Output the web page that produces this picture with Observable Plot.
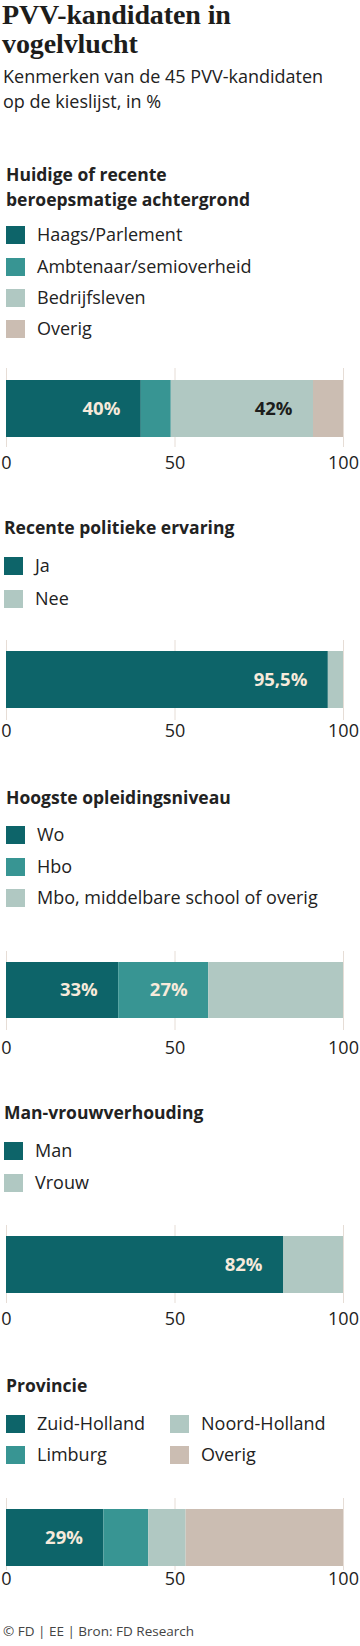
<!DOCTYPE html>
<html>
<head>
<meta charset="utf-8">
<script src="https://cdn.jsdelivr.net/npm/d3@7"></script>
<script src="https://cdn.jsdelivr.net/npm/@observablehq/plot@0.6"></script>
<style>
  html, body { margin: 0; padding: 0; background: #fff; }
  #root { position: relative; width: 360px; height: 1646px; overflow: hidden; font-family: "Open Sans", sans-serif; color: #222; }
  .t { position: absolute; white-space: nowrap; line-height: 1; }
  .sw { position: absolute; }
  .plot { position: absolute; left: 0; }
  .plot svg { overflow: visible; }
</style>
</head>
<body>
<div id="root"></div>
<script>
// ---------- text ----------
const titleLines = ["PVV-kandidaten in", "vogelvlucht"];
const subtitleLines = ["Kenmerken van de 45 PVV-kandidaten", "op de kieslijst, in %"];
const footer = "© FD | EE | Bron: FD Research";

// ---------- data ----------
const beroepTitle = ["Huidige of recente", "beroepsmatige achtergrond"];
const beroepCategories = ["Haags/Parlement", "Ambtenaar/semioverheid", "Bedrijfsleven", "Overig"];
const beroepValues = [40, 8.9, 42.2, 8.9];
const beroepLabels = ["40%", "", "42%", ""];

const ervaringTitle = ["Recente politieke ervaring"];
const ervaringCategories = ["Ja", "Nee"];
const ervaringValues = [95.5, 4.5];
const ervaringLabels = ["95,5%", ""];

const opleidingTitle = ["Hoogste opleidingsniveau"];
const opleidingCategories = ["Wo", "Hbo", "Mbo, middelbare school of overig"];
const opleidingValues = [33.3, 26.7, 40];
const opleidingLabels = ["33%", "27%", ""];

const geslachtTitle = ["Man-vrouwverhouding"];
const geslachtCategories = ["Man", "Vrouw"];
const geslachtValues = [82.2, 17.8];
const geslachtLabels = ["82%", ""];

const provincieTitle = ["Provincie"];
const provincieCategories = ["Zuid-Holland", "Limburg", "Noord-Holland", "Overig"];
const provincieValues = [28.9, 13.3, 11.1, 46.7];
const provincieLabels = ["29%", "", "", ""];

const xTicks = [0, 50, 100];

// ---------- styles ----------
const DARK = "#0d6469", TEAL = "#389593", LIGHT = "#b0c8c2", BEIGE = "#cbbdb2";
const CREAM = "#f7eadb", INK = "#1d1d1b", GRID = "#e6ddd6";
const SANS = "'Open Sans', sans-serif";
const SERIF = "'Liberation Serif', serif";

const sections = [
  {title: beroepTitle, cats: beroepCategories, vals: beroepValues, labels: beroepLabels, colors: [DARK, TEAL, LIGHT, BEIGE],
   layout: {heading: [182, 207], legend: [[6,226],[6,258],[6,289],[6,320]], gridTop: 368, frame: 79, insetTop: 12, insetBottom: 10, tickPad: 9}},
  {title: ervaringTitle, cats: ervaringCategories, vals: ervaringValues, labels: ervaringLabels, colors: [DARK, LIGHT],
   layout: {hx: 4, heading: [535], legend: [[4,557],[4,590]], gridTop: 640, frame: 80, insetTop: 11, insetBottom: 12, tickPad: 4}},
  {title: opleidingTitle, cats: opleidingCategories, vals: opleidingValues, labels: opleidingLabels, colors: [DARK, TEAL, LIGHT],
   layout: {heading: [805], legend: [[6,826],[6,858],[6,889]], gridTop: 951, frame: 79, insetTop: 11, insetBottom: 12, tickPad: 11}},
  {title: geslachtTitle, cats: geslachtCategories, vals: geslachtValues, labels: geslachtLabels, colors: [DARK, LIGHT],
   layout: {hx: 4, heading: [1120], legend: [[4,1142],[4,1174]], gridTop: 1225, frame: 78, insetTop: 11, insetBottom: 10, tickPad: 9}},
  {title: provincieTitle, cats: provincieCategories, vals: provincieValues, labels: provincieLabels, colors: [DARK, TEAL, LIGHT, BEIGE],
   layout: {heading: [1393], legend: [[6,1415],[6,1446],[170,1415],[170,1446]], gridTop: 1498, frame: 72, insetTop: 11, insetBottom: 4, tickPad: 2}}
];

const root = document.getElementById("root");

function text(str, x, baseline, size, opts = {}) {
  const d = document.createElement("div");
  d.className = "t";
  const ratio = opts.serif ? 0.8375 : 0.888;
  d.style.left = x + "px";
  d.style.top = (baseline - ratio * size) + "px";
  d.style.fontSize = size + "px";
  d.style.fontFamily = opts.serif ? SERIF : SANS;
  d.style.fontWeight = opts.weight || 400;
  d.style.color = opts.color || "#222";
  if (opts.ls) d.style.letterSpacing = opts.ls;
  d.textContent = str;
  root.appendChild(d);
  return d;
}

// title & subtitle
text(titleLines[0], 2, 24, 28, {serif: true, weight: 700, color: INK, ls: "-0.1px"});
text(titleLines[1], 2, 53, 28, {serif: true, weight: 700, color: INK, ls: "-0.1px"});
text(subtitleLines[0], 3, 83, 18, {color: "#222"});
text(subtitleLines[1], 3, 108, 18, {color: "#222"});

sections.forEach(sec => {
  const L = sec.layout;
  const hx = L.hx ?? 6;
  sec.title.forEach((line, i) => text(line, hx, L.heading[i], 17.5, {weight: 700, color: "#222"}));

  // legend
  sec.cats.forEach((c, i) => {
    const [lx, ly] = L.legend[i];
    const sw = document.createElement("div");
    sw.className = "sw";
    sw.style.cssText = `left:${lx}px;top:${ly}px;width:19px;height:18px;background:${sec.colors[i]}`;
    root.appendChild(sw);
    text(c, lx + 31, ly + 15, 18, {color: "#222"});
  });

  // table built from the arrays
  let acc = 0;
  const rows = sec.cats.map((c, i) => {
    const r = {cat: c, value: sec.vals[i], x1: acc, x2: acc + sec.vals[i], label: sec.labels[i], color: sec.colors[i]};
    acc += sec.vals[i];
    return r;
  });

  const marginBottom = 34;
  const chart = Plot.plot({
    width: 360,
    height: L.frame + marginBottom,
    marginLeft: 6,
    marginRight: 17,
    marginTop: 0,
    marginBottom,
    style: {fontFamily: SANS, fontSize: "18px", color: "#222", background: "transparent", overflow: "visible"},
    x: {domain: [0, 100], ticks: xTicks, label: null},
    y: {domain: ["bar"], axis: null, padding: 0},
    color: {domain: sec.cats, range: sec.colors},
    marks: [
      Plot.ruleX(xTicks, {stroke: GRID, strokeWidth: 1}),
      Plot.barX(rows, {x1: "x1", x2: "x2", y: () => "bar", fill: "cat", insetTop: L.insetTop, insetBottom: L.insetBottom}),
      Plot.text(rows.filter(r => r.label && r.color !== LIGHT), {x: "x2", y: () => "bar", text: "label", textAnchor: "end", dx: -21, dy: (L.insetTop - L.insetBottom) / 2, fill: CREAM, fontWeight: 700, fontSize: 18.5}),
      Plot.text(rows.filter(r => r.label && r.color === LIGHT), {x: "x2", y: () => "bar", text: "label", textAnchor: "end", dx: -21, dy: (L.insetTop - L.insetBottom) / 2, fill: INK, fontWeight: 700, fontSize: 18.5}),
      Plot.axisX({ticks: xTicks, tickSize: 0, tickPadding: L.tickPad, fontSize: 18, fill: "#222", label: null})
    ]
  });
  const wrap = document.createElement("div");
  wrap.className = "plot";
  wrap.style.top = L.gridTop + "px";
  wrap.appendChild(chart);
  root.appendChild(wrap);
});

text(footer, 3, 1637, 13.5, {color: "#444"});
</script>
</body>
</html>
